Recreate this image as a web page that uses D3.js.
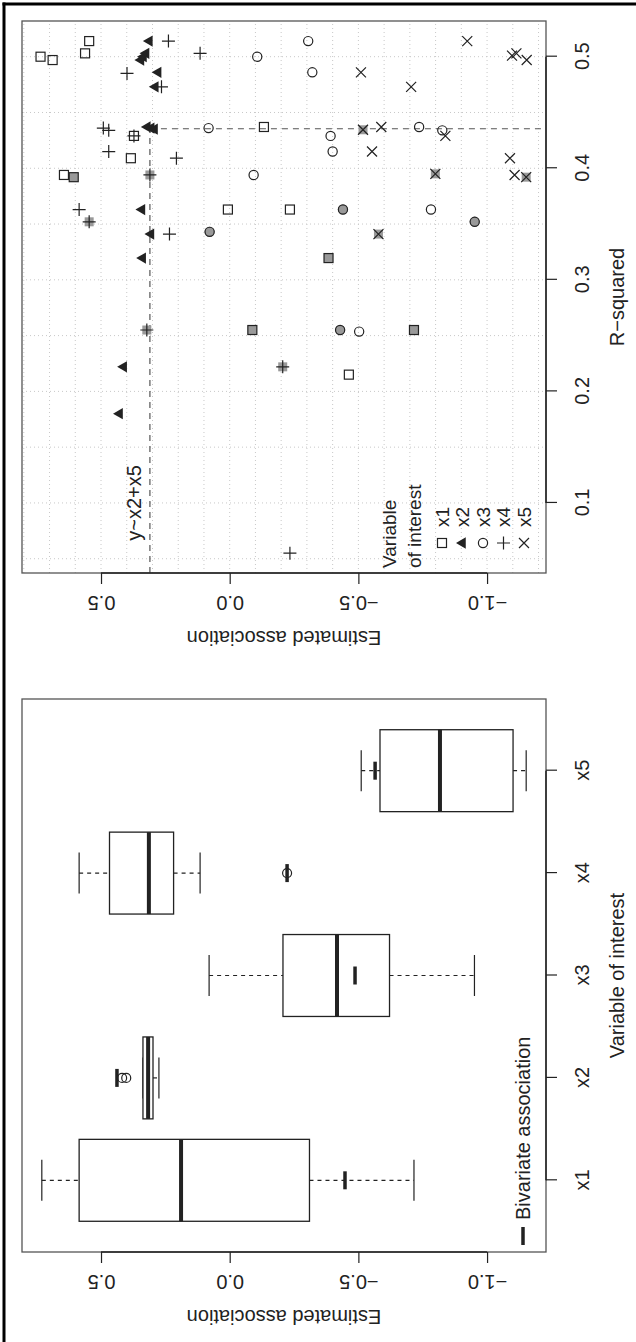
<!DOCTYPE html>
<html lang="en">
<head>
<meta charset="UTF-8">
<title>Estimated association by variable of interest</title>
<script src="https://d3js.org/d3.v7.min.js"></script>
<style>
  body { margin: 0; background: #fff; }
  svg text { font-family: "Liberation Sans", Arial, sans-serif; fill: #222; }
</style>
</head>
<body>
<svg width="636" height="1342"></svg>
<script>
// Box plot summaries (left panel), one value per variable of interest
const categories = ["x1", "x2", "x3", "x4", "x5"];
const boxUpper = [0.730, 0.337, 0.080, 0.585, -0.511];
const boxQ3 = [0.585, 0.337, -0.207, 0.467, -0.584];
const boxMedian = [0.189, 0.317, -0.417, 0.314, -0.817];
const boxQ1 = [-0.310, 0.298, -0.621, 0.218, -1.101];
const boxLower = [-0.716, 0.275, -0.951, 0.115, -1.152];
const boxOutliers = [[], [0.418, 0.402], [], [-0.223], []];
const bivariate = [-0.448, 0.438, -0.487, -0.223, -0.565];

// Scatter (right panel): [R-squared, estimate, highlighted]
const x1Points = [
  [0.500, 0.735, 0], [0.497, 0.688, 0], [0.503, 0.562, 0], [0.514, 0.546, 0],
  [0.437, -0.133, 0], [0.429, 0.372, 0], [0.409, 0.384, 0], [0.394, 0.644, 0],
  [0.392, 0.606, 1], [0.363, 0.007, 0], [0.363, -0.234, 0], [0.3195, -0.384, 1],
  [0.255, -0.088, 1], [0.255, -0.716, 1], [0.215, -0.463, 0]
];
const x2Points = [
  [0.514, 0.312, 0], [0.503, 0.325, 0], [0.500, 0.335, 0], [0.497, 0.345, 0],
  [0.486, 0.278, 0], [0.473, 0.289, 0], [0.437, 0.320, 0], [0.436, 0.305, 0],
  [0.435, 0.292, 0], [0.363, 0.341, 0], [0.341, 0.306, 0], [0.3195, 0.338, 0],
  [0.222, 0.412, 0], [0.180, 0.428, 0]
];
const x3Points = [
  [0.514, -0.305, 0], [0.500, -0.107, 0], [0.486, -0.321, 0], [0.436, 0.082, 0],
  [0.437, -0.736, 0], [0.434, -0.826, 0], [0.429, -0.392, 0], [0.415, -0.400, 0],
  [0.394, -0.093, 0], [0.363, -0.440, 1], [0.363, -0.782, 0], [0.352, -0.952, 1],
  [0.343, 0.078, 1], [0.255, -0.429, 1], [0.2536, -0.503, 0]
];
const x4Points = [
  [0.514, 0.238, 0], [0.503, 0.115, 0], [0.485, 0.399, 0], [0.473, 0.265, 0],
  [0.436, 0.491, 0], [0.434, 0.470, 0], [0.429, 0.372, 0], [0.415, 0.470, 0],
  [0.409, 0.207, 0], [0.394, 0.310, 1], [0.363, 0.585, 0], [0.352, 0.546, 1],
  [0.341, 0.234, 0], [0.255, 0.322, 1], [0.222, -0.206, 1], [0.055, -0.234, 0]
];
const x5Points = [
  [0.514, -0.923, 0], [0.501, -1.097, 0], [0.503, -1.114, 0], [0.497, -1.154, 0],
  [0.486, -0.510, 0], [0.473, -0.705, 0], [0.4345, -0.518, 1], [0.437, -0.589, 0],
  [0.429, -0.838, 0], [0.415, -0.553, 0], [0.409, -1.089, 0], [0.395, -0.799, 1],
  [0.394, -1.107, 0], [0.392, -1.152, 1], [0.341, -0.578, 1]
];
// chosen model y~x2+x5
const chosenR2 = 0.4354;
const chosenEst = 0.310;

const estTicks = [-1.0, -0.5, 0.0, 0.5];
const r2Ticks = [0.1, 0.2, 0.3, 0.4, 0.5];

// the figure is drawn landscape (1342 x 636) then turned a quarter left
const svg = d3.select("svg");
const g = svg.append("g").attr("transform", "translate(0,1342) rotate(-90)");

const boxPanel = {left: 90, right: 643, top: 22, bottom: 546};
const scatPanel = {left: 769, right: 1321, top: 22, bottom: 546};

const y = d3.scaleLinear().domain([0.807, -1.229]).range([22, 546]);
const xCat = d3.scaleLinear().domain([0.3, 5.7]).range([boxPanel.left, boxPanel.right]);
const xR2 = d3.scaleLinear().domain([0.0372, 0.532]).range([scatPanel.left, scatPanel.right]);

const ink = "#222";
const fmt = d => d3.format(".1f")(d).replace("-", "\u2212");

function leftAxis(panel, title) {
  const ax = g.append("g").attr("transform", "translate(" + panel.left + ",0)")
    .call(d3.axisLeft(y).tickValues(estTicks).tickSize(11).tickFormat(fmt));
  ax.select(".domain").remove();
  ax.selectAll("line").attr("stroke", ink).attr("stroke-width", 1.2);
  ax.selectAll("text")
    .attr("x", null).attr("dy", null)
    .attr("text-anchor", "middle")
    .attr("dominant-baseline", "central")
    .attr("transform", "translate(-30,0) rotate(-90)")
    .style("font-size", "20px").attr("fill", ink);
  g.append("line")
    .attr("x1", panel.left).attr("x2", panel.left)
    .attr("y1", y(0.5)).attr("y2", y(-1.0))
    .attr("stroke", ink).attr("stroke-width", 1.5);
  g.append("text")
    .attr("transform", "translate(" + (panel.left - 65) + "," + ((panel.top + panel.bottom) / 2) + ") rotate(-90)")
    .attr("text-anchor", "middle").attr("dominant-baseline", "central")
    .style("font-size", "20px").text(title);
}

function bottomAxis(panel, scale, ticks, format, title) {
  const ax = g.append("g").attr("transform", "translate(0," + panel.bottom + ")")
    .call(d3.axisBottom(scale).tickValues(ticks).tickSize(11).tickFormat(format));
  ax.select(".domain").remove();
  ax.selectAll("line").attr("stroke", ink).attr("stroke-width", 1.2);
  ax.selectAll("text").attr("y", 36).attr("dy", "0.35em")
    .style("font-size", "20px").attr("fill", ink);
  g.append("line")
    .attr("x1", scale(ticks[0])).attr("x2", scale(ticks[ticks.length - 1]))
    .attr("y1", panel.bottom).attr("y2", panel.bottom)
    .attr("stroke", ink).attr("stroke-width", 1.5);
  g.append("text")
    .attr("x", (panel.left + panel.right) / 2).attr("y", panel.bottom + 71)
    .attr("text-anchor", "middle").attr("dominant-baseline", "central")
    .style("font-size", "20px").text(title);
}

function panelBox(panel) {
  g.append("rect")
    .attr("x", panel.left).attr("y", panel.top)
    .attr("width", panel.right - panel.left).attr("height", panel.bottom - panel.top)
    .attr("fill", "none").attr("stroke", "#555").attr("stroke-width", 1.3);
}

// ---------- left panel: box plots ----------
const half = xCat(1.4) - xCat(1);
const capHalf = xCat(1.2) - xCat(1);
categories.forEach((c, i) => {
  const cx = xCat(i + 1);
  const bx = g.append("g");
  bx.append("line").attr("x1", cx).attr("x2", cx).attr("y1", y(boxUpper[i])).attr("y2", y(boxQ3[i]))
    .attr("stroke", ink).attr("stroke-width", 1.2).attr("stroke-dasharray", "4,4");
  bx.append("line").attr("x1", cx).attr("x2", cx).attr("y1", y(boxQ1[i])).attr("y2", y(boxLower[i]))
    .attr("stroke", ink).attr("stroke-width", 1.2).attr("stroke-dasharray", "4,4");
  [boxUpper[i], boxLower[i]].forEach(v => {
    bx.append("line").attr("x1", cx - capHalf).attr("x2", cx + capHalf).attr("y1", y(v)).attr("y2", y(v))
      .attr("stroke", ink).attr("stroke-width", 1.2);
  });
  bx.append("rect").attr("x", cx - half).attr("width", 2 * half)
    .attr("y", y(boxQ3[i])).attr("height", y(boxQ1[i]) - y(boxQ3[i]))
    .attr("fill", "#fff").attr("stroke", ink).attr("stroke-width", 1.3);
  bx.append("line").attr("x1", cx - half).attr("x2", cx + half)
    .attr("y1", y(boxMedian[i])).attr("y2", y(boxMedian[i]))
    .attr("stroke", ink).attr("stroke-width", 4);
  boxOutliers[i].forEach(v => {
    bx.append("circle").attr("cx", cx).attr("cy", y(v)).attr("r", 4.5)
      .attr("fill", "none").attr("stroke", ink).attr("stroke-width", 1.2);
  });
  bx.append("line").attr("x1", cx - 9).attr("x2", cx + 9)
    .attr("y1", y(bivariate[i])).attr("y2", y(bivariate[i]))
    .attr("stroke", ink).attr("stroke-width", 3.5);
});
panelBox(boxPanel);
leftAxis(boxPanel, "Estimated association");
bottomAxis(boxPanel, xCat, [1, 2, 3, 4, 5], d => categories[d - 1], "Variable of interest");

// legend of box panel
g.append("line").attr("x1", 97).attr("x2", 115).attr("y1", 523).attr("y2", 523)
  .attr("stroke", ink).attr("stroke-width", 3.5);
g.append("text").attr("x", 122).attr("y", 523).attr("dominant-baseline", "central")
  .style("font-size", "20px").text("Bivariate association");

// ---------- right panel: estimate vs R-squared ----------
const grid = g.append("g");
d3.range(0.05, 0.51, 0.05).forEach(v => {
  grid.append("line").attr("x1", xR2(v)).attr("x2", xR2(v))
    .attr("y1", scatPanel.top).attr("y2", scatPanel.bottom);
});
d3.range(-1.2, 0.81, 0.1).forEach(v => {
  grid.append("line").attr("x1", scatPanel.left).attr("x2", scatPanel.right)
    .attr("y1", y(v)).attr("y2", y(v));
});
grid.selectAll("line").attr("stroke", "#c8c8c8").attr("stroke-width", 1).attr("stroke-dasharray", "1,3");

// reference lines for the chosen model
g.append("line").attr("x1", scatPanel.left).attr("x2", xR2(chosenR2))
  .attr("y1", y(chosenEst)).attr("y2", y(chosenEst))
  .attr("stroke", "#555").attr("stroke-width", 1.2).attr("stroke-dasharray", "6,5");
g.append("line").attr("x1", xR2(chosenR2)).attr("x2", xR2(chosenR2))
  .attr("y1", y(chosenEst)).attr("y2", scatPanel.bottom)
  .attr("stroke", "#555").attr("stroke-width", 1.2).attr("stroke-dasharray", "6,5");
g.append("text").attr("x", xR2(0.1)).attr("y", y(chosenEst) - 16)
  .attr("text-anchor", "middle").attr("dominant-baseline", "central")
  .style("font-size", "20px").text("y~x2+x5");

function drawMark(sel, pch, x, yy, grey) {
  if (grey) {
    if (pch === 1) sel.append("circle").attr("cx", x).attr("cy", yy).attr("r", 5).attr("fill", "#999");
    else sel.append("rect").attr("x", x - 4.5).attr("y", yy - 4.5).attr("width", 9).attr("height", 9).attr("fill", "#999");
  }
  if (pch === 0) {
    sel.append("rect").attr("x", x - 4.5).attr("y", yy - 4.5).attr("width", 9).attr("height", 9)
      .attr("fill", "none").attr("stroke", ink).attr("stroke-width", 1.2);
  } else if (pch === 17) {
    sel.append("path").attr("d", d3.symbol(d3.symbolTriangle, 55)())
      .attr("transform", "translate(" + x + "," + yy + ")").attr("fill", ink);
  } else if (pch === 1) {
    sel.append("circle").attr("cx", x).attr("cy", yy).attr("r", 4.6)
      .attr("fill", "none").attr("stroke", ink).attr("stroke-width", 1.2);
  } else if (pch === 3) {
    sel.append("path").attr("d", `M${x - 6.5},${yy}h13M${x},${yy - 6.5}v13`)
      .attr("stroke", ink).attr("stroke-width", 1.2);
  } else if (pch === 4) {
    sel.append("path").attr("d", `M${x - 5},${yy - 5}l10,10M${x - 5},${yy + 5}l10,-10`)
      .attr("stroke", ink).attr("stroke-width", 1.2);
  }
}

const series = [
  {name: "x1", pch: 0, pts: x1Points},
  {name: "x2", pch: 17, pts: x2Points},
  {name: "x3", pch: 1, pts: x3Points},
  {name: "x4", pch: 3, pts: x4Points},
  {name: "x5", pch: 4, pts: x5Points}
];
const marks = g.append("g");
series.forEach(s => {
  s.pts.forEach(p => drawMark(marks, s.pch, xR2(p[0]), y(p[1]), p[2] === 1));
});

panelBox(scatPanel);
leftAxis(scatPanel, "Estimated association");
bottomAxis(scatPanel, xR2, r2Ticks, d3.format(".1f"), "R\u2212squared");

// legend of scatter panel
const leg = g.append("g");
leg.append("text").attr("x", 774).attr("y", 389.5).attr("dominant-baseline", "central")
  .style("font-size", "19px").text("Variable");
leg.append("text").attr("x", 774).attr("y", 414).attr("dominant-baseline", "central")
  .style("font-size", "19px").text("of interest");
series.forEach((s, i) => {
  const ly = 442 + i * 20.5;
  drawMark(leg, s.pch, 799, ly, false);
  leg.append("text").attr("x", 815).attr("y", ly).attr("dominant-baseline", "central")
    .style("font-size", "19px").text(s.name);
});

// outer frame (only top and left edges are in the picture)
svg.append("line").attr("x1", 2.5).attr("x2", 636).attr("y1", 4).attr("y2", 4)
  .attr("stroke", "#000").attr("stroke-width", 3);
svg.append("line").attr("x1", 4).attr("x2", 4).attr("y1", 2.5).attr("y2", 1342)
  .attr("stroke", "#000").attr("stroke-width", 3);
</script>
</body>
</html>
